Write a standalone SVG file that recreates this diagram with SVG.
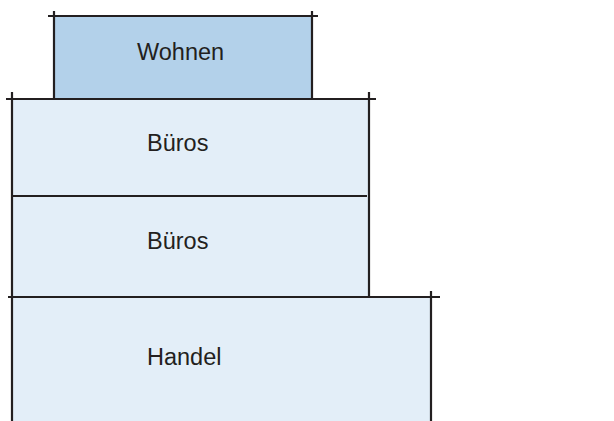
<svg xmlns="http://www.w3.org/2000/svg" width="614" height="421" viewBox="0 0 614 421">
<style>
.ln{stroke:#231f20;stroke-width:2.2;fill:none;stroke-linecap:butt}
.lbl{font-family:"Liberation Sans",Arial,sans-serif;font-size:23.5px;fill:#231f20}
.light{fill:#e3eef8}
.dark{fill:#b3d1ea}
</style>
<rect width="614" height="421" fill="#ffffff"/>
<g id="wohnen">
<rect class="dark" x="54" y="16" width="258" height="83"/>
<text class="lbl" x="137" y="60">Wohnen</text>
</g>
<g id="bueros1">
<rect class="light" x="12" y="99" width="357" height="97"/>
<text class="lbl" x="147" y="151">Büros</text>
</g>
<g id="bueros2">
<rect class="light" x="12" y="196" width="357" height="101"/>
<text class="lbl" x="147" y="249">Büros</text>
</g>
<g id="handel">
<rect class="light" x="12" y="297" width="419" height="124"/>
<text class="lbl" x="147" y="365">Handel</text>
</g>
<g id="lines">
<path class="ln" d="M48 16H318M54 11V99M312 11V99"/>
<path class="ln" d="M6 99H376M12 92V421M369 92V297"/>
<path class="ln" d="M12 196H367"/>
<path class="ln" d="M8 297H440M431 291V421"/>
</g>
</svg>
